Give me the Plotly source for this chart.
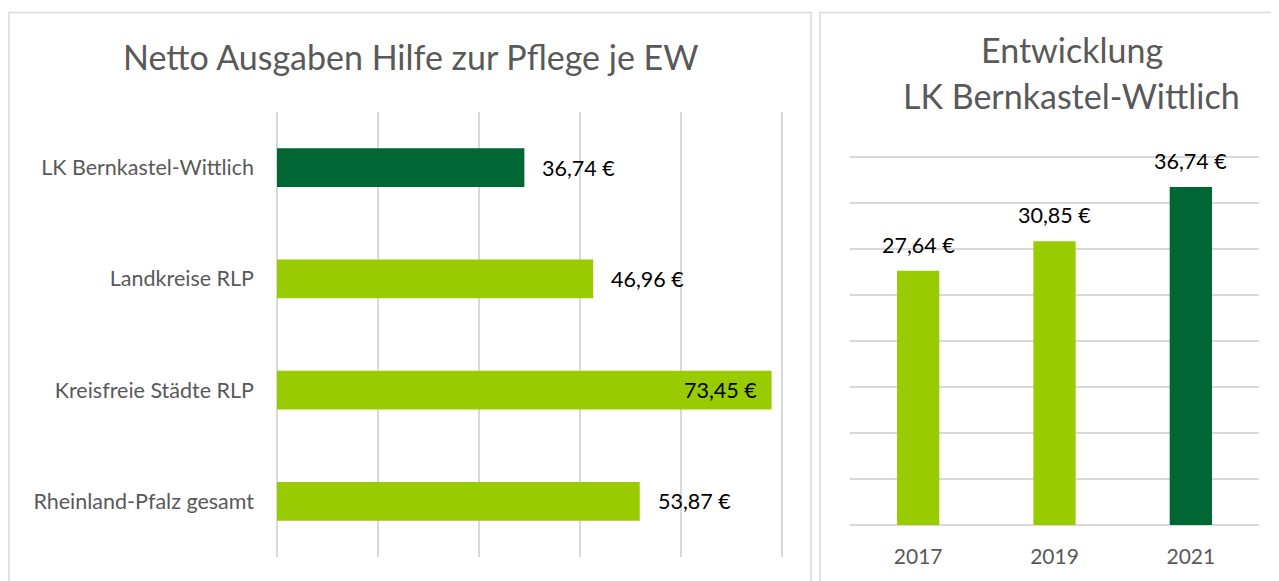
import plotly.graph_objects as go

# left panel: net spending per inhabitant
regions = ["LK Bernkastel-Wittlich", "Landkreise RLP", "Kreisfreie Städte RLP", "Rheinland-Pfalz gesamt"]
region_values = [36.74, 46.96, 73.45, 53.87]
region_labels = ["36,74 €", "46,96 €", "73,45 €", "53,87 €"]

# right panel: development of LK Bernkastel-Wittlich
years = ["2017", "2019", "2021"]
year_values = [27.64, 30.85, 36.74]
year_labels = ["27,64 €", "30,85 €", "36,74 €"]

LIGHT = "#99CC00"
DARK = "#006633"
GRID = "#D9D9D9"
TXT = "#595959"
FONT = "Lato"

# page body has an 8px margin, so the figure is a bit smaller and shifted
OFF = 8
W, H = 1279 - OFF, 581 - OFF


def px_x(x):
    return (x - OFF) / W


def px_y(y):
    return 1 - (y - OFF) / H


fig = go.Figure()

fig.add_trace(go.Bar(
    y=regions, x=region_values, orientation="h",
    marker_color=[DARK, LIGHT, LIGHT, LIGHT], marker_line_width=0,
    width=0.35, xaxis="x", yaxis="y", showlegend=False, hoverinfo="skip",
))

fig.add_trace(go.Bar(
    x=years, y=year_values,
    marker_color=[LIGHT, LIGHT, DARK], marker_line_width=0,
    width=0.31, xaxis="x2", yaxis="y2", showlegend=False, hoverinfo="skip",
))

annotations = []
for name, val, lab in zip(regions, region_values, region_labels):
    inside = val > 70
    annotations.append(dict(
        x=val, y=name, xref="x", yref="y", text=lab, showarrow=False,
        xanchor="right" if inside else "left", xshift=-13 if inside else 16,
        font=dict(family=FONT, size=21.5, color="black"),
    ))
for i, (val, lab) in enumerate(zip(year_values, year_labels)):
    annotations.append(dict(
        x=i, y=val, xref="x2", yref="y2", text=lab, showarrow=False,
        yanchor="bottom", yshift=11,
        font=dict(family=FONT, size=21.5, color="black"),
    ))

# titles
titles = [
    ("Netto Ausgaben Hilfe zur Pflege je EW", 410, 57),
    ("Entwicklung", 1072, 50),
    ("LK Bernkastel-Wittlich", 1071, 95),
]
for text, tx, ty in titles:
    annotations.append(dict(
        x=px_x(tx), y=px_y(ty), xref="paper", yref="paper",
        xanchor="center", yanchor="middle",
        text=text, showarrow=False,
        font=dict(family=FONT, size=34, color=TXT),
    ))

shapes = [
    dict(type="rect", xref="paper", yref="paper", x0=px_x(9), x1=px_x(811),
         y0=-0.05, y1=px_y(12.5), line=dict(color=GRID, width=1.5)),
    dict(type="rect", xref="paper", yref="paper", x0=px_x(820), x1=1.05,
         y0=-0.05, y1=px_y(12.5), line=dict(color=GRID, width=1.5)),
]

# axis ranges run a little past the last gridline so it is still drawn
X1_MAX, Y2_MAX = 76, 40.5
x1_right = 277 + (782 - 277) * X1_MAX / 75
y2_top = 525 - (525 - 157) * Y2_MAX / 40

fig.update_layout(
    width=W, height=H,
    margin=dict(l=0, r=0, t=0, b=0, autoexpand=False),
    paper_bgcolor="white", plot_bgcolor="white",
    font=dict(family=FONT, color=TXT),
    annotations=annotations, shapes=shapes,
    xaxis=dict(
        domain=[px_x(277), px_x(x1_right)], range=[0, X1_MAX], dtick=15, anchor="y",
        showgrid=True, gridcolor=GRID, gridwidth=1.5,
        zeroline=True, zerolinecolor=GRID, zerolinewidth=1.5,
        showticklabels=False, showline=False, automargin=False,
    ),
    yaxis=dict(
        domain=[px_y(557), px_y(112)], autorange="reversed", anchor="x",
        showgrid=False, zeroline=False, showline=False,
        tickfont=dict(family=FONT, size=21.5, color=TXT),
        ticklabelstandoff=22, automargin=False,
    ),
    xaxis2=dict(
        domain=[px_x(850), px_x(1259)], type="category", anchor="y2",
        categoryorder="array", categoryarray=years, range=[-0.5, 2.5],
        showgrid=False, zeroline=False, showline=False,
        tickfont=dict(family=FONT, size=21, color=TXT),
        ticklabelstandoff=17, automargin=False,
    ),
    yaxis2=dict(
        domain=[px_y(525), px_y(y2_top)], range=[0, Y2_MAX], dtick=5, anchor="x2",
        showgrid=True, gridcolor=GRID, gridwidth=1.5,
        zeroline=True, zerolinecolor=GRID, zerolinewidth=1.5,
        showticklabels=False, showline=False, automargin=False,
    ),
)

fig.write_html("out.html")
